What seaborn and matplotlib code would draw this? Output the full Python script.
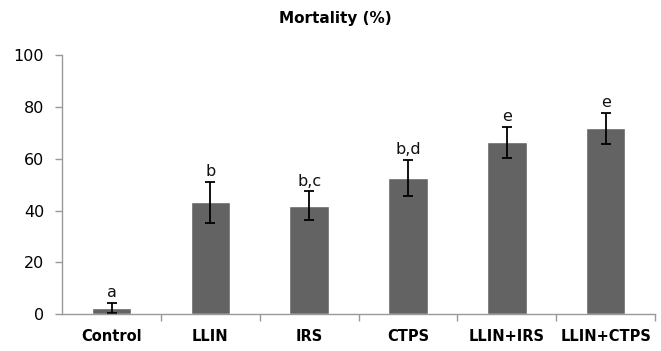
import matplotlib
matplotlib.use("Agg")
import matplotlib.pyplot as plt
import seaborn as sns
import pandas as pd

# Values
treatments = ["Control", "LLIN", "IRS", "CTPS", "LLIN+IRS", "LLIN+CTPS"]
mortality = [2.3, 43.2, 41.9, 52.5, 66.3, 71.8]
errors = [2.0, 8.0, 5.5, 7.0, 6.0, 6.0]
letters = ["a", "b", "b,c", "b,d", "e", "e"]

df = pd.DataFrame({"Treatment": treatments, "Mortality": mortality})

sns.set_theme(style="white")
plt.rcParams["font.family"] = ["DejaVu Sans"]

fig = plt.figure(figsize=(6.61, 3.51), dpi=100)
ax = fig.add_axes([0.094, 0.105, 0.897, 0.738])

sns.barplot(data=df, x="Treatment", y="Mortality", color="#636363",
            saturation=1, width=0.4, ax=ax)

# error bars and significance letters
xs = range(len(treatments))
ax.errorbar(xs, mortality, yerr=errors, fmt="none", ecolor="black",
            elinewidth=1.3, capsize=3.5, capthick=1.3)
for x, m, e, lab in zip(xs, mortality, errors, letters):
    ax.annotate(lab, (x, m + e), xytext=(0, 2), textcoords="offset points",
                ha="center", va="bottom", fontsize=11.5, color="#111111")

ax.set_xlim(-0.5, len(treatments) - 0.5)
ax.set_ylim(0, 100)
ax.set_yticks([0, 20, 40, 60, 80, 100])
ax.set_xlabel("")
ax.set_ylabel("")
ax.set_title("Mortality (%)", fontsize=11, fontweight="bold", pad=23,
             color="black", x=0.46)

# tick marks between categories like the original
ax.set_xticks([i + 0.5 for i in xs], minor=True)
ax.tick_params(axis="x", which="major", length=0, pad=11, labelsize=10.5,
               labelcolor="black")
ax.tick_params(axis="x", which="minor", length=5, color="#999999", width=1, bottom=True)
ax.tick_params(axis="y", length=5, color="#999999", width=1, left=True, pad=8,
               labelsize=11.5, labelcolor="black")
for lbl in ax.get_xticklabels():
    lbl.set_fontweight("bold")

sns.despine(ax=ax)
for side in ["left", "bottom"]:
    ax.spines[side].set_color("#999999")
    ax.spines[side].set_linewidth(1)

fig.savefig("out.png", dpi=100)
